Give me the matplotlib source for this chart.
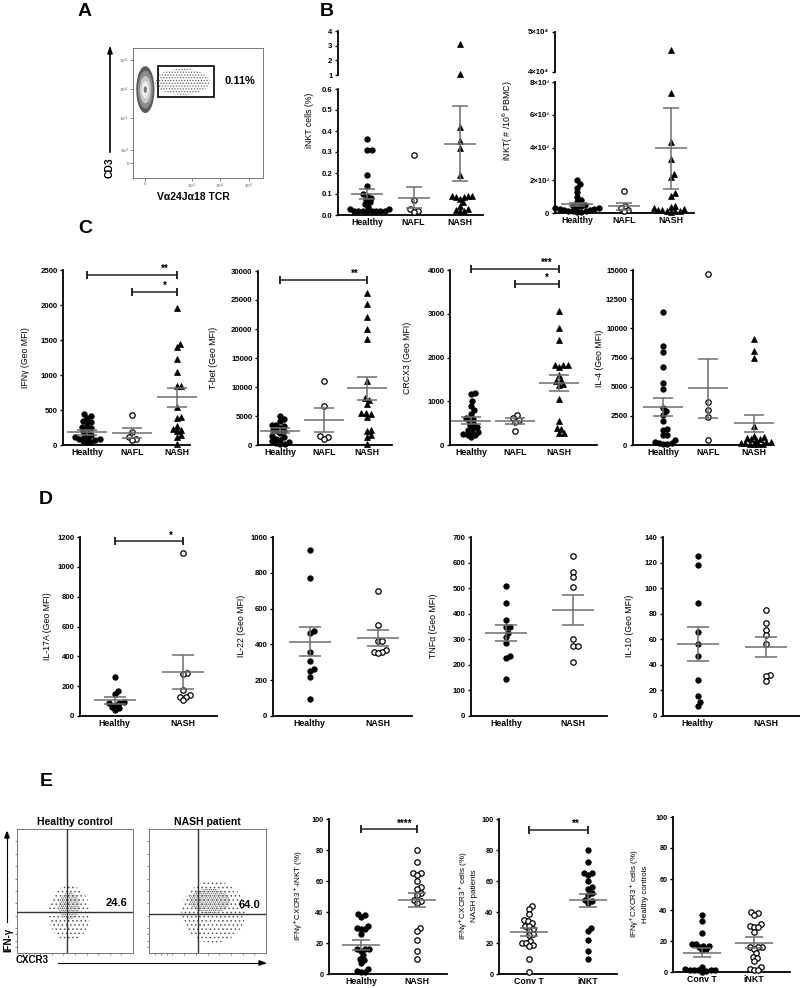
import numpy as np
import matplotlib.pyplot as plt
from matplotlib.patches import Ellipse, Rectangle

plt.rcParams['font.family'] = ['Liberation Sans', 'DejaVu Sans']
plt.rcParams['hatch.linewidth'] = 0.6

# ---------------- data ----------------
groups3 = ['Healthy', 'NAFL', 'NASH']
groups2 = ['Healthy', 'NASH']

# B: iNKT frequency (%)
pct_healthy = [0.36, 0.31, 0.31, 0.19, 0.14, 0.10, 0.09, 0.08, 0.07, 0.06, 0.05,
               0.04, 0.03, 0.03, 0.02, 0.02, 0.02, 0.02, 0.02, 0.02, 0.02, 0.02]
pct_nafl = [0.285, 0.07, 0.03, 0.02, 0.015]
pct_nash = [3.1, 1.05, 0.42, 0.35, 0.32, 0.19, 0.09, 0.09, 0.09, 0.085, 0.085,
            0.075, 0.06, 0.045, 0.03, 0.025, 0.02, 0.02]
pct_mean = [0.098, 0.083, 0.34]
pct_sem = [0.024, 0.05, 0.178]

# B: iNKT number per 10^6 PBMC
num_healthy = [2000, 1750, 1550, 1270, 970, 800, 670, 500, 450, 400, 350, 300,
               280, 250, 220, 200, 180, 150, 120, 100, 80, 60]
num_nafl = [1350, 420, 320, 200, 120]
num_nash = [45600, 7300, 4350, 3300, 2400, 2200, 1200, 1050, 400, 350, 300,
            250, 200, 200, 150, 120, 100, 80]
num_mean = [530, 400, 3950]
num_sem = [110, 230, 2480]

# C: Geo MFI
ifng = [[440, 410, 390, 340, 330, 320, 260, 250, 240, 200, 170, 150, 120, 110,
         100, 90, 80, 70, 60, 50, 40],
        [430, 190, 110, 80, 70],
        [1960, 1450, 1400, 1230, 1040, 840, 840, 540, 400, 390, 270, 230, 220,
         200, 140, 110, 20]]
ifng_mean = [180, 170, 680]
ifng_sem = [30, 70, 140]

tbet = [[5000, 4400, 4200, 3500, 3400, 3300, 3000, 2600, 2500, 2400, 2000, 1500,
         1300, 1100, 900, 700, 500, 300, 200, 100],
        [11000, 6800, 1500, 1300, 1000],
        [26200, 24300, 22000, 20000, 18300, 11000, 8100, 7800, 7100, 5600, 5500,
         5300, 4800, 2600, 2400, 1800, 1300, 100]]
tbet_mean = [2500, 4300, 9800]
tbet_sem = [450, 2000, 2000]

crcx3 = [[1180, 1160, 1000, 900, 800, 720, 620, 600, 550, 500, 450, 420, 380,
          350, 300, 280, 260, 240, 220, 180],
         [680, 620, 570, 530, 330],
         [3070, 2680, 2400, 1820, 1820, 1820, 1780, 1600, 1480, 1460, 1400, 1380,
          1060, 540, 380, 360, 270, 270]]
crcx3_mean = [560, 550, 1410]
crcx3_sem = [80, 60, 185]

il4 = [[11400, 8500, 8000, 6700, 5300, 4800, 3200, 2900, 2600, 2100, 1400, 1300,
        900, 850, 400, 300, 200, 150, 100, 100],
       [14700, 3700, 3000, 2400, 400],
       [9100, 8100, 7500, 1600, 800, 700, 600, 500, 500, 400, 300, 300, 200, 200,
        100, 100, 100, 50]]
il4_mean = [3250, 4850, 1850]
il4_sem = [750, 2550, 700]

# D: Geo MFI, healthy vs NASH
il17a = [[260, 165, 145, 95, 85, 85, 75, 60, 55, 40],
         [1090, 290, 280, 175, 140, 130, 130, 110]]
il17a_mean = [105, 295]
il17a_sem = [22, 115]

il22 = [[930, 770, 475, 465, 360, 310, 260, 250, 220, 95],
        [700, 510, 420, 420, 370, 360, 360, 350]]
il22_mean = [415, 435]
il22_sem = [80, 44]

tnfa = [[510, 440, 375, 350, 350, 325, 310, 285, 235, 225, 145],
        [625, 565, 545, 505, 300, 275, 275, 210]]
tnfa_mean = [325, 415]
tnfa_sem = [32, 58]

il10 = [[125, 118, 88, 66, 56, 47, 28, 16, 11, 8],
        [83, 73, 67, 63, 56, 32, 31, 27]]
il10_mean = [56.5, 54]
il10_sem = [13.5, 7.8]

# E: IFNg+CXCR3+ (%)
e_healthy_inkt = [39, 38, 37, 31, 30, 29, 29, 26, 16, 16, 16, 15, 12, 10, 9, 7,
                  3, 2, 1, 1]
e_nash_inkt = [80, 72, 65, 65, 64, 60, 56, 55, 52, 51, 48, 47, 46, 30, 28, 22,
               15, 10]
e_nash_convt = [44, 42, 39, 35, 34, 33, 31, 31, 29, 28, 26, 25, 21, 20, 20, 19,
                18, 10, 1]
e_healthy_convt = [37, 33, 25, 18, 18, 17, 17, 16, 15, 14, 3, 2, 1.5, 1, 1, 1, 1,
                   0.5, 0]
e1_mean, e1_sem = [19, 47.5], [3.2, 4.5]
e2_mean, e2_sem = [27, 47.5], [2.5, 4.3]
e3_mean, e3_sem = [12.5, 19], [3.0, 3.3]

# ---------------- helpers ----------------
W, H = 800, 988
fig = plt.figure(figsize=(8, 9.88), dpi=100)

MK = {'fc': dict(marker='o', mfc='black', mec='black', ms=3.9, mew=0.6),
      'oc': dict(marker='o', mfc='white', mec='black', ms=3.9, mew=0.9),
      'tr': dict(marker='^', mfc='black', mec='black', ms=4.3, mew=0.5)}
TICK_FS = 5.6
CAT_FS = 6.3
LAB_FS = 6.3


def add_ax(l, t, r, b):
    return fig.add_axes([l / W, 1 - b / H, (r - l) / W, (b - t) / H])


def swarm(ypx, d):
    xs = np.zeros(len(ypx))
    placed = []
    for i in np.argsort(ypx):
        y = ypx[i]
        cands = [0.0]
        for px, py in placed:
            dy = abs(py - y)
            if dy < d:
                dx = np.sqrt(d * d - dy * dy)
                cands += [px + dx, px - dx]
        cands.sort(key=abs)
        for c in cands:
            if all((c - px) ** 2 + (y - py) ** 2 >= d * d - 1e-6 for px, py in placed):
                break
        placed.append((c, y))
        xs[i] = c
    return xs


def style(ax, bottom=True):
    ax.spines['top'].set_visible(False)
    ax.spines['right'].set_visible(False)
    ax.spines['left'].set_linewidth(1.3)
    ax.spines['bottom'].set_linewidth(1.3)
    if not bottom:
        ax.spines['bottom'].set_visible(False)
        ax.tick_params(axis='x', bottom=False, labelbottom=False)
    ax.tick_params(axis='y', length=2.5, width=1.0, pad=1.5)
    ax.tick_params(axis='x', length=0, pad=2.5)


def dots(ax, rect, xlim, ylim, data, kinds, means=None, sems=None,
         hw=20, cw=10, d=4.4, cats=None, yticks=None, ylabels=None,
         bottom=True, tfs=TICK_FS, cfs=CAT_FS):
    l, t, r, b = rect
    sx = (r - l) / (xlim[1] - xlim[0])
    sy = (b - t) / (ylim[1] - ylim[0])
    for i, (vals, kind) in enumerate(zip(data, kinds)):
        v = np.array([x for x in vals if ylim[0] <= x <= ylim[1]], float)
        if len(v):
            off = swarm((v - ylim[0]) * sy, d) / sx
            ax.plot(i + off, v, ls='none', clip_on=False, zorder=3, **MK[kind])
        if means is not None:
            m, s = means[i], sems[i]
            kw = dict(color='#6e6e6e', lw=1.1, zorder=4, clip_on=False,
                      solid_capstyle='butt')
            ax.plot([i - hw / sx, i + hw / sx], [m, m], **kw)
            ax.plot([i - cw / sx, i + cw / sx], [m + s, m + s], **kw)
            ax.plot([i - cw / sx, i + cw / sx], [m - s, m - s], **kw)
            ax.plot([i, i], [m - s, m + s], **kw)
    ax.set_xlim(xlim)
    ax.set_ylim(ylim)
    style(ax, bottom)
    if yticks is not None:
        ax.set_yticks(yticks, ylabels if ylabels is not None else
                      [f'{v:g}' for v in yticks], fontsize=tfs, fontweight='bold')
    if bottom and cats is not None:
        ax.set_xticks(range(len(cats)), cats, fontsize=cfs, fontweight='bold')


def bracket(ax, x1, x2, y, stars, dy=4):
    ax.plot([x1, x2], [y, y], color='#222222', lw=1.1, clip_on=False, zorder=5)
    for x in (x1, x2):
        ax.plot([x, x], [y, y], marker='|', ms=dy * 1.6, mew=1.1,
                color='#222222', clip_on=False, zorder=5)
    ax.annotate(stars, xy=(x2, y), xytext=(-9, 0.5), textcoords='offset points',
                ha='center', va='bottom', fontsize=7, fontweight='bold',
                annotation_clip=False)


def ylab(x, y, s, fs=LAB_FS):
    fig.text(x / W, 1 - y / H, s, rotation=90, ha='center', va='center',
             fontsize=fs, multialignment='center')


def letter(x, y, s):
    fig.text(x / W, 1 - y / H, s, ha='center', va='center', fontsize=14,
             fontweight='bold')


def _head(x0, y0, x1, y1, L=6, w=2.2):
    v = np.array([x1 - x0, y1 - y0], float)
    v /= np.hypot(*v)
    n = np.array([-v[1], v[0]])
    tip = np.array([x1, y1], float)
    base = tip - L * v
    pts = [tip, base + w * n, base - w * n]
    return [(p[0] / W, 1 - p[1] / H) for p in pts]


def pix_arrow(x0, y0, x1, y1, lw=1.0):
    fig.add_artist(plt.Line2D([x0 / W, x1 / W], [1 - y0 / H, 1 - y1 / H],
                              transform=fig.transFigure, color='black', lw=lw))
    fig.patches.append(plt.Polygon(
        _head(x0, y0, x1, y1), closed=True, color='black',
        transform=fig.transFigure))


# ---------------- panel A ----------------
letter(85, 12, 'A')
axA = add_ax(133, 48, 263, 178)
axA.set_xlim(0, 1)
axA.set_ylim(0, 1)
for s in axA.spines.values():
    s.set_linewidth(0.7)
    s.set_color('#777777')
axA.set_xticks([0.09, 0.45, 0.67, 0.89], ['0', '$10^3$', '$10^4$', '$10^5$'],
               fontsize=3.2, color='#555555')
axA.set_yticks([0.115, 0.215, 0.46, 0.685, 0.91],
               ['0', '$10^2$', '$10^3$', '$10^4$', '$10^5$'],
               fontsize=3.2, color='#555555')
axA.tick_params(length=2, width=0.5, pad=1, color='#555555')
for (w, h, c) in [(0.14, 0.36, '#5a5a5a'), (0.115, 0.29, '#8c8c8c'),
                  (0.085, 0.21, '#c8c8c8'), (0.055, 0.13, '#eeeeee'),
                  (0.025, 0.05, '#777777')]:
    axA.add_patch(Ellipse((0.095, 0.68), w, h, color=c, lw=0, zorder=2))
axA.add_patch(Ellipse((0.38, 0.74), 0.42, 0.2, facecolor='none',
                      edgecolor='#666666', hatch='......', lw=0, zorder=2))
axA.add_patch(Rectangle((0.19, 0.62), 0.43, 0.24, fill=False, lw=1.2,
                        edgecolor='black', zorder=3))
axA.text(0.82, 0.75, '0.11%', fontsize=8, fontweight='bold', ha='center',
         va='center')
fig.text(110 / W, 1 - 168 / H, 'CD3', rotation=90, ha='center', va='center',
         fontsize=7.5, fontweight='bold')
pix_arrow(110, 152, 110, 48, lw=1.2)
fig.text(193 / W, 1 - 197 / H, 'Vα24Jα18 TCR', ha='center', va='center',
         fontsize=7.5, fontweight='bold')

# ---------------- panel B ----------------
letter(327, 11, 'B')
xl = (-0.63, 2.5)
rect = (338, 89, 483, 215)
axb1 = add_ax(*rect)
dots(axb1, rect, xl, (0, 0.6), [pct_healthy, pct_nafl, pct_nash],
     ['fc', 'oc', 'tr'], pct_mean, pct_sem, hw=16, cw=8, cats=groups3,
     yticks=[0, .1, .2, .3, .4, .5, .6],
     ylabels=['0.0', '0.1', '0.2', '0.3', '0.4', '0.5', '0.6'])
rect = (338, 31, 483, 75)
axb2 = add_ax(*rect)
dots(axb2, rect, xl, (1, 4), [pct_healthy, pct_nafl, pct_nash],
     ['fc', 'oc', 'tr'], bottom=False, yticks=[1, 2, 3, 4])
ylab(309, 120, 'iNKT cells (%)')

xl = (-0.47, 2.49)
rect = (555, 82, 694, 213)
axb3 = add_ax(*rect)
dots(axb3, rect, xl, (0, 8000), [num_healthy, num_nafl, num_nash],
     ['fc', 'oc', 'tr'], num_mean, num_sem, hw=16, cw=8, cats=groups3,
     yticks=[0, 2000, 4000, 6000, 8000],
     ylabels=['0', '2×10³', '4×10³', '6×10³', '8×10³'])
rect = (555, 32, 694, 72)
axb4 = add_ax(*rect)
dots(axb4, rect, xl, (40000, 50000), [num_healthy, num_nafl, num_nash],
     ['fc', 'oc', 'tr'], bottom=False, yticks=[40000, 50000],
     ylabels=['4×10⁴', '5×10⁴'])
ylab(508, 121, 'iNKT( # /10$^6$ PBMC)')

# ---------------- panel C ----------------
letter(85, 228, 'C')
kinds3 = ['fc', 'oc', 'tr']
rect = (63, 270, 190, 445)
axc1 = add_ax(*rect)
dots(axc1, rect, (-0.533, 2.29), (0, 2500), ifng, kinds3, ifng_mean, ifng_sem,
     cats=groups3, yticks=[0, 500, 1000, 1500, 2000, 2500])
bracket(axc1, 0, 2, 2430, '**')
bracket(axc1, 1, 2, 2190, '*')
ylab(25, 358, 'IFNγ (Geo MFI)')

rect = (258, 271, 392, 445)
axc2 = add_ax(*rect)
dots(axc2, rect, (-0.51, 2.57), (0, 30000), tbet, kinds3, tbet_mean, tbet_sem,
     cats=groups3, yticks=[0, 5000, 10000, 15000, 20000, 25000, 30000])
bracket(axc2, 0, 2, 28500, '**')
ylab(213, 358, 'T-bet (Geo MFI)')

rect = (450, 270, 597, 445)
axc3 = add_ax(*rect)
dots(axc3, rect, (-0.48, 2.86), (0, 4000), crcx3, kinds3, crcx3_mean, crcx3_sem,
     cats=groups3, yticks=[0, 1000, 2000, 3000, 4000])
bracket(axc3, 0, 2, 4030, '***')
bracket(axc3, 1, 2, 3680, '*')
ylab(408, 358, 'CRCX3 (Geo MFI)')

rect = (633, 270, 773, 445)
axc4 = add_ax(*rect)
dots(axc4, rect, (-0.66, 2.42), (0, 15000), il4, kinds3, il4_mean, il4_sem,
     cats=groups3, yticks=[0, 2500, 5000, 7500, 10000, 12500, 15000])
ylab(599, 358, 'IL-4 (Geo MFI)')

# ---------------- panel D ----------------
letter(46, 499, 'D')
kinds2 = ['fc', 'oc']
rect = (80, 537, 217, 716)
axd1 = add_ax(*rect)
dots(axd1, rect, (-0.51, 1.5), (0, 1200), il17a, kinds2, il17a_mean, il17a_sem,
     hw=21, cw=11, cats=groups2, yticks=[0, 200, 400, 600, 800, 1000, 1200])
bracket(axd1, 0, 1, 1170, '*')
ylab(47, 626, 'IL-17A (Geo MFI)')

rect = (273, 537, 412, 716)
axd2 = add_ax(*rect)
dots(axd2, rect, (-0.54, 1.5), (0, 1000), il22, kinds2, il22_mean, il22_sem,
     hw=21, cw=11, cats=groups2, yticks=[0, 200, 400, 600, 800, 1000])
ylab(241, 626, 'IL-22 (Geo MFI)')

rect = (471, 537, 607, 716)
axd3 = add_ax(*rect)
dots(axd3, rect, (-0.52, 1.5), (0, 700), tnfa, kinds2, tnfa_mean, tnfa_sem,
     hw=21, cw=11, cats=groups2, yticks=[0, 100, 200, 300, 400, 500, 600, 700])
ylab(433, 626, 'TNFα (Geo MFI)')

rect = (663, 537, 800, 716)
axd4 = add_ax(*rect)
dots(axd4, rect, (-0.51, 1.5), (0, 140), il10, kinds2, il10_mean, il10_sem,
     hw=21, cw=11, cats=groups2, yticks=[0, 20, 40, 60, 80, 100, 120, 140])
ylab(630, 626, 'IL-10 (Geo MFI)')

# ---------------- panel E ----------------
letter(46, 781, 'E')


def flow(rect, vx, hy, title, pct, clouds):
    ax = add_ax(*rect)
    ax.set_xlim(0, 1)
    ax.set_ylim(0, 1)
    for s in ax.spines.values():
        s.set_linewidth(0.7)
        s.set_color('#777777')
    ax.set_xticks([0.05, 0.1, 0.15, 0.2, 0.3, 0.4, 0.5, 0.6, 0.7, 0.8, 0.9])
    ax.set_yticks([0.05, 0.1, 0.15, 0.2, 0.3, 0.4, 0.5, 0.6, 0.7, 0.8, 0.9])
    ax.tick_params(length=1.5, width=0.5, labelleft=False, labelbottom=False,
                   color='#555555')
    for (cx, cy, w, h, hatch) in clouds:
        ax.add_patch(Ellipse((cx, cy), w, h, facecolor='none',
                             edgecolor='#555555', hatch=hatch, lw=0, zorder=2))
    ax.axvline(vx, color='#333333', lw=1.0, zorder=3)
    ax.axhline(hy, color='#333333', lw=1.0, zorder=3)
    ax.text(0.86, hy + 0.07, pct, fontsize=8, fontweight='bold', ha='center',
            va='center', zorder=4)
    ax.set_title(title, fontsize=7.5, fontweight='bold', pad=3)
    return ax


flow((17, 829, 133, 953), 0.43, 0.33, 'Healthy control', '24.6',
     [(0.45, 0.32, 0.36, 0.45, '....'), (0.45, 0.38, 0.18, 0.22, '........')])
flow((149, 829, 266, 953), 0.42, 0.315, 'NASH patient', '64.0',
     [(0.55, 0.33, 0.55, 0.5, '....'), (0.52, 0.42, 0.35, 0.2, '........')])
fig.text(8 / W, 1 - 940 / H, 'IFN-γ', rotation=90, ha='center', va='center',
         fontsize=7, fontweight='bold')
pix_arrow(7, 922, 7, 832, lw=0.8)
fig.text(32 / W, 1 - 960 / H, 'CXCR3', ha='center', va='center', fontsize=7,
         fontweight='bold')
pix_arrow(58, 963, 265, 963, lw=0.8)

rect = (329, 819, 447, 974)
axe1 = add_ax(*rect)
dots(axe1, rect, (-0.57, 1.54), (0, 100), [e_healthy_inkt, e_nash_inkt],
     ['fc', 'oc'], e1_mean, e1_sem, hw=19, cw=9, d=4.3, cats=groups2,
     yticks=[0, 20, 40, 60, 80, 100], tfs=5.2)
bracket(axe1, 0, 1, 93.5, '****')
ylab(298, 896, 'IFNγ$^{+}$CXCR3$^{+}$-iNKT (%)', fs=5.8)

rect = (499, 819, 617, 974)
axe2 = add_ax(*rect)
dots(axe2, rect, (-0.51, 1.49), (0, 100), [e_nash_convt, e_nash_inkt],
     ['oc', 'fc'], e2_mean, e2_sem, hw=19, cw=9, d=4.3, cats=['Conv T', 'iNKT'],
     yticks=[0, 20, 40, 60, 80, 100], tfs=5.2)
bracket(axe2, 0, 1, 93, '**')
ylab(467, 896, 'IFNγ$^{+}$CXCR3$^{+}$ cells (%)\nNASH patients', fs=5.8)

rect = (673, 817, 790, 972)
axe3 = add_ax(*rect)
dots(axe3, rect, (-0.56, 1.69), (0, 100), [e_healthy_convt, e_healthy_inkt],
     ['fc', 'oc'], e3_mean, e3_sem, hw=19, cw=9, d=4.3, cats=['Conv T', 'iNKT'],
     yticks=[0, 20, 40, 60, 80, 100], tfs=5.2)
ylab(638, 894, 'IFNγ$^{+}$CXCR3$^{+}$ cells (%)\nHealthy controls', fs=5.8)

fig.savefig('out.png', dpi=100)
